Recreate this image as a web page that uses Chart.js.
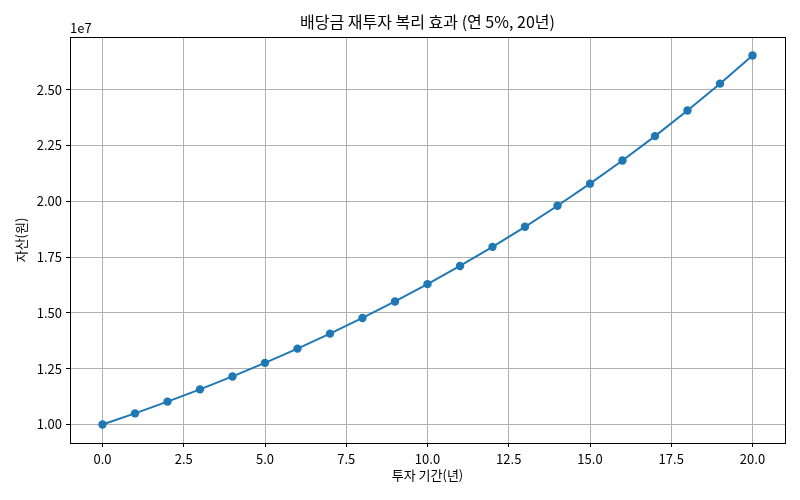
<!DOCTYPE html>
<html><head><meta charset="utf-8">
<script src="https://cdn.jsdelivr.net/npm/chart.js@4/dist/chart.umd.min.js"></script>
<style>html,body{margin:0;padding:0;background:#fff}#wrap{width:800px;height:500px}</style>
</head><body><div id="wrap"><canvas id="c" width="800" height="500"></canvas></div>
<script>
const years = [0,1,2,3,4,5,6,7,8,9,10,11,12,13,14,15,16,17,18,19,20];
const assets = [10000000,10500000,11025000,11576250,12155063,12762816,13400956,14071004,14774554,15513282,16288946,17103394,17958563,18856491,19799316,20789282,21828746,22920183,24066192,25269502,26532977];
const yTicks = [1.00,1.25,1.50,1.75,2.00,2.25,2.50];
const xTicks = [0,2.5,5,7.5,10,12.5,15,17.5,20];
const titleText = '배당금 재투자 복리 효과 (연 5%, 20년)';
const xLabel = '투자 기간(년)';
const yLabel = '자산(원)';
const FONT = "'Noto Sans CJK KR', 'Noto Sans', sans-serif";

const frame = {
  id:'frame',
  afterDraw(chart){
    const {ctx, chartArea:a} = chart;
    ctx.save();
    ctx.strokeStyle='#000'; ctx.lineWidth=1;
    ctx.strokeRect(Math.round(a.left)+0.5, Math.round(a.top)+0.5, Math.round(a.right-a.left), Math.round(a.bottom-a.top));
    ctx.fillStyle='#000';
    ctx.font = "16px " + FONT;
    ctx.textAlign='center'; ctx.textBaseline='alphabetic';
    ctx.fillText(titleText, (a.left+a.right)/2, 28);
    ctx.font = "13px " + FONT;
    ctx.textAlign='left';
    ctx.fillText('1e7', a.left, 33);
    ctx.restore();
  }
};

new Chart(document.getElementById('c'), {
  type:'line',
  data:{ datasets:[{
    data: years.map((x,i)=>({x, y: assets[i]})),
    borderColor:'#1f77b4', backgroundColor:'#1f77b4',
    borderWidth:2, pointRadius:4.2, pointHoverRadius:4.2, pointBorderWidth:0,
    tension:0
  }]},
  options:{
    responsive:false, animation:false, devicePixelRatio:1,
    layout:{padding:{top:37,right:15,left:0,bottom:0}},
    plugins:{legend:{display:false}, tooltip:{enabled:false}, title:{display:false}},
    scales:{
      x:{
        type:'linear', min:-1, max:21,
        afterBuildTicks(s){ s.ticks = xTicks.map(v=>({value:v})); },
        afterFit(s){ s.height = 57; },
        ticks:{ color:'#000', font:{family:FONT, size:13}, padding:4,
          callback:v=>Number(v).toFixed(1) },
        grid:{ color:'#b0b0b0', lineWidth:1, tickLength:4, tickColor:'#000', drawTicks:true },
        border:{ color:'#000', width:1 },
        title:{ display:true, text:xLabel, color:'#000', font:{family:FONT, size:13}, padding:{top:2,bottom:17} }
      },
      y:{
        type:'linear', min:9173000, max:27359000,
        afterBuildTicks(s){ s.ticks = yTicks.map(v=>({value:v*1e7})); },
        afterFit(s){ s.width = 70; },
        ticks:{ color:'#000', font:{family:FONT, size:13}, padding:4,
          callback:v=>(v/1e7).toFixed(2) },
        grid:{ color:'#b0b0b0', lineWidth:1, tickLength:4, tickColor:'#000', drawTicks:true },
        border:{ color:'#000', width:1 },
        title:{ display:true, text:yLabel, color:'#000', font:{family:FONT, size:13}, padding:{top:13,bottom:0} }
      }
    }
  },
  plugins:[frame]
});
</script></body></html>
